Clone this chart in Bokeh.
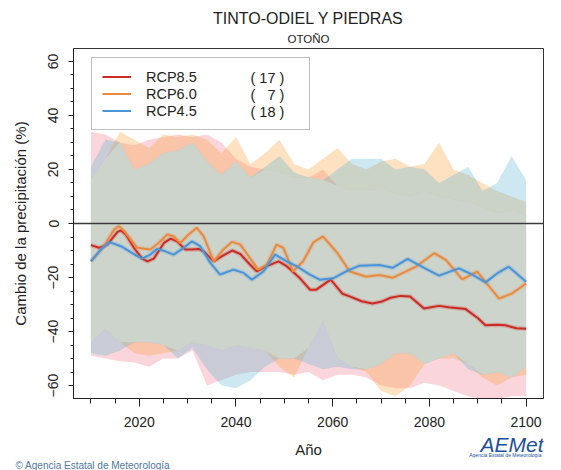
import numpy as np
from bokeh.plotting import figure
from bokeh.layouts import column
from bokeh.models import Range1d, FixedTicker, Span, Legend, LegendItem, Label, Title
from bokeh.embed import file_html
from bokeh.resources import INLINE

# ---------------- data ----------------
title_text = "TINTO-ODIEL Y PIEDRAS"
subtitle_text = "OTOÑO"
x_label = "Año"
y_label = "Cambio de la precipitación (%)"
scenarios = ["RCP8.5", "RCP6.0", "RCP4.5"]
NB = "\u00a0"
model_counts = ["(" + NB + "17" + NB + ")", "(" + NB * 3 + "7" + NB + ")", "(" + NB + "18" + NB + ")"]
x_major_ticks = [2020, 2040, 2060, 2080, 2100]
y_major_ticks = [-60, -40, -20, 0, 20, 40, 60]
credit_text = "© Agencia Estatal de Meteorología"
logo_text = "AEMet"
logo_caption = "Agencia Estatal de Meteorología"

rcp85_years = [2010, 2011.7, 2013.4, 2015.5, 2016.2, 2017.2, 2018.9, 2020.6, 2021.7, 2023, 2025.1, 2026.5,
               2027.8, 2029.5, 2030.9, 2032.3, 2033.3, 2035.4, 2037.1, 2039.2, 2040.9, 2042.9, 2044.3,
               2046.4, 2048.8, 2050.5, 2053.2, 2055.3, 2056.6, 2059.6, 2062, 2063.5, 2066, 2068.2, 2070,
               2072, 2074, 2076, 2078.9, 2082, 2084, 2087.5, 2090, 2091.6, 2094, 2095.7, 2098, 2100]
rcp85_vals = [-8.0, -9.0, -7.8, -3.1, -2.6, -4.1, -9.0, -13.0, -14.0, -13.0, -7.2, -5.6,
              -6.6, -9.6, -9.6, -9.4, -10.3, -14.0, -12.1, -10.0, -11.3, -15.2, -17.7,
              -15.8, -14.0, -15.8, -20.2, -24.5, -24.5, -20.8, -26.0, -27.0, -28.8, -29.6, -29.0,
              -27.5, -26.8, -27.0, -31.5, -30.5, -31.0, -31.7, -35.0, -37.7, -37.5, -37.7, -38.8, -39.0]

rcp60_years = [2010, 2012.7, 2014.8, 2015.8, 2016.9, 2019.6, 2022.3, 2024, 2025.8, 2027.1, 2028.5, 2030.2,
               2031.9, 2033.3, 2035.4, 2037.4, 2039.2, 2040.9, 2044.6, 2046.4, 2048.4, 2049.8, 2051.8,
               2053.9, 2056, 2058, 2061, 2063.5, 2066.9, 2069.7, 2072.4, 2077.2, 2081, 2083.4, 2086.8,
               2089.9, 2094.4, 2097.1, 2100]
rcp60_vals = [-14.0, -8.4, -2.2, -1.0, -2.8, -9.0, -9.6, -7.2, -4.1, -4.7, -7.2, -4.1,
              -1.6, -4.7, -14.0, -9.6, -6.8, -7.8, -17.1, -15.2, -7.8, -9.0, -17.7,
              -14.0, -7.0, -4.8, -11.0, -17.7, -19.7, -19.1, -20.1, -16.0, -11.0, -13.5, -20.7,
              -17.8, -27.8, -25.9, -22.2]

rcp45_years = [2010, 2012.1, 2013.8, 2016.2, 2019.6, 2020.6, 2022.3, 2023.7, 2025.4, 2027.1, 2029.2,
               2030.9, 2032.6, 2034.7, 2036.7, 2039.5, 2041.6, 2043.3, 2045.7, 2048.1, 2050.5, 2052.5,
               2055.3, 2057.3, 2060.1, 2063, 2065.6, 2069.7, 2072.4, 2075.5, 2079, 2082, 2086.1,
               2089, 2091.6, 2094, 2096.4, 2100]
rcp45_vals = [-14.0, -9.6, -6.9, -8.4, -12.1, -13.0, -11.5, -9.4, -10.3, -11.5, -9.0,
              -6.6, -8.4, -14.6, -18.9, -17.1, -18.3, -20.8, -17.7, -11.5, -14.0, -15.8,
              -18.9, -20.8, -20.3, -17.5, -15.6, -15.4, -16.4, -13.1, -16.5, -19.3, -16.6,
              -19.0, -21.8, -18.5, -16.0, -21.6]

band_years = [2010, 2013, 2016, 2019, 2022, 2025, 2028, 2031, 2034, 2037, 2040, 2043, 2046, 2049, 2052,
              2055, 2058, 2061, 2064, 2067, 2070, 2073, 2076, 2079, 2082, 2085, 2088, 2091, 2094, 2097, 2100]
rcp85_upper = [34, 33, 30, 29, 31, 32, 33, 32, 33, 30, 24, 21, 20, 19, 17,
               17, 20, 14, 12, 12, 13, 11, 10, 12, 10, 9, 8, 6, 4, 5, 3]
rcp85_lower = [-49, -50, -51, -51.5, -53, -50, -50, -47, -60, -58, -56, -55, -55, -55, -56,
               -55, -58, -56, -56, -57, -60, -61, -61, -59, -60, -62, -64, -65, -65, -64, -64]
rcp60_upper = [16, 24, 34, 31, 28, 33, 32, 33, 31, 26, 32, 22, 26, 31, 22,
               20, 24, 28, 22, 20, 23, 24, 21, 22, 30, 20, 18, 15, 12, 10, 8]
rcp60_lower = [-44, -39, -44, -48, -49, -48, -47, -44, -45, -47, -45, -46, -47, -53, -57,
               -46, -36, -50, -53, -55, -62, -64, -60, -52, -50, -50, -52, -57, -60, -57, -56]
rcp45_upper = [21, 31, 30, 20, 22, 26, 27, 30, 23, 18, 23, 17, 21, 25, 19,
               17, 16, 20, 24, 24, 24, 20, 21, 20, 15, 18, 21, 12, 15, 25, 16]
rcp45_lower = [-48, -49, -47, -44, -44, -45, -50, -46, -54, -60, -61, -58, -53, -50, -50,
               -52, -54, -53, -54, -54, -52, -48, -48, -52, -50, -48, -54, -56, -55, -57, -53]

# ---------------- styling / layout ----------------
FONT = "Liberation Sans"
LINE_COLORS = ["#cc2a22", "#ea8a3e", "#4a94d8"]
BAND_COLORS = ["#ef7c8e", "#f8a23e", "#63b8d0"]
OVERLAP_COLOR = "#cdd4cc"

X0, X1 = 2006.4, 2103.6
Y0, Y1 = -64.8, 64.8
W, H_TOTAL = 561, 470
H = 432                      # main figure height; the footer strip fills the rest
ML, MR, MT = 73, 18, 48
MB = H - 398
FL, FT = ML, MT
FW, FH = W - ML - MR, H - MT - MB
FB = FT + FH


def dx(px):
    return X0 + (px - FL) / FW * (X1 - X0)


def dy(py):
    return Y1 - (py - FT) / FH * (Y1 - Y0)


p = figure(width=W, height=H, x_range=Range1d(X0, X1), y_range=Range1d(Y0, Y1),
           output_backend="svg", toolbar_location=None, title=None,
           min_border_left=ML, min_border_right=MR, min_border_top=MT, min_border_bottom=MB)
p.xgrid.visible = False
p.ygrid.visible = False
p.outline_line_color = "#333333"
p.outline_line_width = 1
p.background_fill_color = "white"
p.border_fill_color = "white"

# bands
uppers = [rcp85_upper, rcp60_upper, rcp45_upper]
lowers = [rcp85_lower, rcp60_lower, rcp45_lower]
for up, lo, c in zip(uppers, lowers, BAND_COLORS):
    p.varea(x=band_years, y1=lo, y2=up, fill_color=c, fill_alpha=0.32)
ov_up = np.min(np.array(uppers, dtype=float), axis=0)
ov_lo = np.max(np.array(lowers, dtype=float), axis=0)
p.varea(x=band_years, y1=ov_lo, y2=ov_up, fill_color=OVERLAP_COLOR, fill_alpha=1.0)

# white backing for the legend box (legend itself is transparent so its texts stay on top)
LEG_L, LEG_T, LEG_R, LEG_B = 91, 59, 309, 130
p.quad(left=dx(LEG_L), right=dx(LEG_R), top=dy(LEG_T), bottom=dy(LEG_B),
       fill_color="white", line_color=None)

p.add_layout(Span(location=0, dimension="width", line_color="#3a3a3a", line_width=1.3))

# lines
series = [(rcp85_years, rcp85_vals), (rcp60_years, rcp60_vals), (rcp45_years, rcp45_vals)]
renderers = []
for (xs, ys), c in zip(series, LINE_COLORS):
    p.line(xs, ys, line_color=c, line_width=4.5, line_alpha=0.22)
    r = p.line(xs, ys, line_color=c, line_width=2)
    renderers.append(r)

# axes
p.xaxis.ticker = FixedTicker(ticks=x_major_ticks, minor_ticks=list(range(2010, 2101, 5)))
p.yaxis.ticker = FixedTicker(ticks=y_major_ticks, minor_ticks=list(range(-60, 61, 5)))
for ax in (p.xaxis[0], p.yaxis[0]):
    ax.axis_line_color = "#222222"
    ax.major_tick_line_color = "#222222"
    ax.minor_tick_line_color = "#222222"
    ax.major_tick_in = 0
    ax.minor_tick_in = 0
    ax.major_label_text_font = FONT
    ax.major_label_text_font_size = "14px"
    ax.major_label_text_color = "#222222"
    ax.axis_label_text_font = FONT
    ax.axis_label_text_font_size = "15px"
    ax.axis_label_text_font_style = "normal"
    ax.axis_label_text_color = "#222222"
p.xaxis.major_tick_out = 8
p.xaxis.minor_tick_out = 5
p.xaxis.major_label_standoff = 10
p.yaxis.major_tick_out = 5
p.yaxis.minor_tick_out = 3
p.yaxis.major_label_orientation = "vertical"
p.yaxis.major_label_standoff = 10
p.yaxis.axis_label = y_label
p.yaxis.axis_label_standoff = 17

# titles
p.add_layout(Title(text=subtitle_text, align="center", text_font=FONT, text_font_size="11.5px",
                   text_font_style="normal", text_color="#222222", standoff=8), "above")
p.add_layout(Title(text=title_text, align="center", text_font=FONT, text_font_size="16px",
                   text_font_style="normal", text_color="#222222", standoff=0), "above")

# legend
legend = Legend(items=[LegendItem(label=s, renderers=[r]) for s, r in zip(scenarios, renderers)],
                location=(LEG_L - FL, FB - LEG_B), orientation="vertical",
                label_text_font=FONT, label_text_font_size="14.5px", label_text_color="#222222",
                glyph_width=29, glyph_height=17, label_height=17, label_standoff=15,
                label_width=153, padding=10, spacing=0, margin=0,
                border_line_color="#808080", border_line_width=1,
                background_fill_alpha=0.0)
p.add_layout(legend)
row_py = [77.5, 94.5, 111.5]
for txt, py in zip(model_counts, row_py):
    p.add_layout(Label(x=dx(250), y=dy(py), text=txt, text_font=FONT, text_font_size="14.5px",
                       text_color="#222222", text_baseline="middle", text_align="left"))

# ---------------- footer strip: x-axis title, credit and logo ----------------
# (its plot area lines up with the main plot area: x 73..543 in page pixels)
FOOT_H = H_TOTAL - H
FOOT_FRAME_BOTTOM = 458
foot = figure(width=W, height=FOOT_H, x_range=Range1d(FL, FL + FW),
              y_range=Range1d(FOOT_FRAME_BOTTOM, H),
              output_backend="svg", toolbar_location=None, title=None,
              x_axis_type=None, y_axis_type=None, min_border=0)
foot.outline_line_color = None
foot.xgrid.visible = False
foot.ygrid.visible = False
foot.background_fill_color = "white"
foot.border_fill_color = "white"

foot.add_layout(Label(x=FL + FW / 2, y=450, text=x_label, text_font=FONT,
                      text_font_size="15px", text_color="#222222", text_baseline="middle",
                      text_align="center"))
foot.add_layout(Label(x=FL + FW, y=444.5, text=logo_text, text_font=FONT, text_font_size="21px",
                      text_font_style="italic", text_color="#1d4f9c", text_baseline="middle",
                      text_align="right"))
foot.add_layout(Label(x=FL + FW - 2, y=455, text=logo_caption, text_font=FONT,
                      text_font_size="5px", text_color="#1d4f9c", text_baseline="middle",
                      text_align="right"))
foot.add_layout(Title(text=credit_text, align="left", offset=15 - FL, standoff=0,
                      text_font=FONT, text_font_size="10px", text_font_style="normal",
                      text_color="#4f78a8"), "below")

layout = column(p, foot, spacing=0)
open("out.html", "w").write(file_html(layout, INLINE))
